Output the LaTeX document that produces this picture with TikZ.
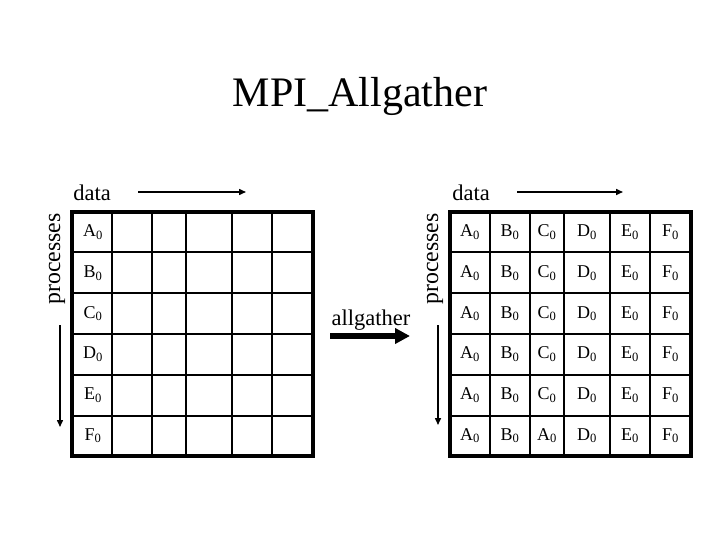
\documentclass[tikz,border=0pt]{standalone}
\usepackage{fontspec}
\setmainfont{Liberation Serif}
\usetikzlibrary{arrows.meta}
\begin{document}
\begin{tikzpicture}[x=1pt,y=-1pt,
  inner/.style={line width=1.9pt},
  outer/.style={line width=3.2pt},
  cell/.style={font=\fontsize{18}{20}\selectfont, inner sep=0pt},
  lbl/.style={font=\fontsize{22.5}{24}\selectfont, inner sep=0pt, anchor=base},
  proc/.style={font=\fontsize{23.8}{26}\selectfont, inner sep=0pt, rotate=90},
  thinarrow/.style={line width=1.5pt, -{Triangle[length=7pt,width=6pt]}},
  fatarrow/.style={line width=6pt, -{Triangle[length=15pt,width=15pt]}}]
\useasboundingbox (0,0) rectangle (720,540);
% title
\node[font=\fontsize{42}{46}\selectfont, inner sep=0pt, anchor=base] (title) at (360,107) {MPI\_Allgather};
% left grid
\foreach \x in {112,152,186,232,272} \draw[inner] (\x,212) -- (\x,456);
\foreach \y in {252,293,334,375,416} \draw[inner] (72,\y) -- (313,\y);
\draw[outer] (72,212) rectangle (313,456);
% right grid
\foreach \x in {490,530,564,610,650} \draw[inner] (\x,212) -- (\x,456);
\foreach \y in {252,293,334,375,416} \draw[inner] (450,\y) -- (691,\y);
\draw[outer] (450,212) rectangle (691,456);
% left cells
\foreach \l [count=\i] in {A,B,C,D,E,F}
  \node[cell] (L\i) at (93,{212+40.67*(\i-0.5)}) {\l\textsubscript{0}};
% right cells
\foreach \r in {1,...,5}
  \foreach \l/\cx [count=\c] in {A/470,B/510,C/547,D/587,E/630,F/670.5}
    \node[cell] (R\r\c) at (\cx,{212+40.67*(\r-0.5)}) {\l\textsubscript{0}};
\foreach \l/\cx [count=\c] in {A/470,B/510,A/547,D/587,E/630,F/670.5}
  \node[cell] (R6\c) at (\cx,{212+40.67*5.5}) {\l\textsubscript{0}};
% labels
\node[lbl] (dataL) at (92,201) {data};
\node[lbl] (dataR) at (471,201) {data};
\node[proc] (procL) at (57,259) {processes};
\node[proc] (procR) at (435,259) {processes};
\node[lbl] (ag) at (371,325) {allgather};
% arrows
\coordinate (dLs) at (138,192); \coordinate (dLe) at (246,192);
\coordinate (dRs) at (517,192); \coordinate (dRe) at (623,192);
\coordinate (pLs) at (60,325); \coordinate (pLe) at (60,427);
\coordinate (pRs) at (438,325); \coordinate (pRe) at (438,425);
\coordinate (agS) at (330,336); \coordinate (agE) at (410,336);
\draw[thinarrow] (dLs) -- (dLe);
\draw[thinarrow] (dRs) -- (dRe);
\draw[thinarrow] (pLs) -- (pLe);
\draw[thinarrow] (pRs) -- (pRe);
\draw[fatarrow] (agS) -- (agE);
\end{tikzpicture}
\end{document}
